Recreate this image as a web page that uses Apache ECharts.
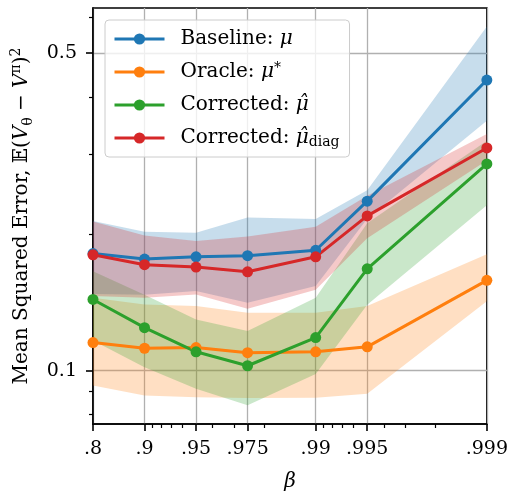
<!DOCTYPE html>
<html>
<head>
<meta charset="utf-8">
<script src="https://cdn.jsdelivr.net/npm/echarts@6/dist/echarts.min.js"></script>
<style>
  html, body { margin: 0; padding: 0; background: #fff; }
  #chart { width: 511px; height: 497px; }
</style>
</head>
<body>
<div id="chart"></div>
<script>
// beta values and axis ticks
const betas = [0.8, 0.9, 0.95, 0.975, 0.99, 0.995, 0.999];
const xTickLabels = ['.8', '.9', '.95', '.975', '.99', '.995', '.999'];
const xMinorTicks = [0.91, 0.92, 0.93, 0.94, 0.96, 0.97, 0.98, 0.991, 0.992, 0.993, 0.994, 0.996, 0.997, 0.998];
const yTicks = [0.1, 0.5];
const yTickLabels = ['0.1', '0.5'];
const yMinorTicks = [0.08, 0.09, 0.2, 0.3, 0.4, 0.6];

// mean squared error per beta, with shaded band bounds
const baseline = [0.181, 0.176, 0.178, 0.179, 0.184, 0.236, 0.436];
const baselineLow = [0.1475, 0.1468, 0.1497, 0.141, 0.1536, 0.216, 0.3545];
const baselineHigh = [0.2133, 0.2022, 0.2012, 0.2173, 0.2155, 0.2493, 0.5715];

const oracle = [0.1153, 0.112, 0.1124, 0.1095, 0.110, 0.1128, 0.158];
const oracleLow = [0.0927, 0.0882, 0.0874, 0.087, 0.0871, 0.0889, 0.1422];
const oracleHigh = [0.1446, 0.1398, 0.1387, 0.134, 0.134, 0.1387, 0.1804];

const corrected = [0.1434, 0.1243, 0.110, 0.1025, 0.1182, 0.1675, 0.285];
const correctedLow = [0.1165, 0.1017, 0.0912, 0.0839, 0.0983, 0.1396, 0.2311];
const correctedHigh = [0.1654, 0.1468, 0.1296, 0.1223, 0.1446, 0.2109, 0.3205];

const diag = [0.1798, 0.171, 0.169, 0.165, 0.178, 0.219, 0.309];
const diagLow = [0.146, 0.1446, 0.147, 0.1368, 0.1507, 0.1955, 0.29];
const diagHigh = [0.213, 0.1982, 0.1929, 0.1972, 0.2073, 0.2427, 0.3315];

// x axis is log(1 - beta), y axis is log(mse)
const tx = b => -Math.log10(1 - b);
const ty = v => Math.log10(v);

const SERIF = 'DejaVu Serif';
const names = ['Baseline: μ', 'Oracle: μ*', 'Corrected: μ̂', 'Corrected: μ̂_diag'];
const legendRich = {
  'Baseline: μ': '{t|Baseline: }{m|μ}',
  'Oracle: μ*': '{t|Oracle: }{m|μ}{sup|*}',
  'Corrected: μ̂': '{t|Corrected: }{m|μ̂}',
  'Corrected: μ̂_diag': '{t|Corrected: }{m|μ̂}{sub|diag}'
};
const colors = ['#1f77b4', '#ff7f0e', '#2ca02c', '#d62728'];
const fills = ['rgba(31,119,180,0.25)', 'rgba(255,127,14,0.25)', 'rgba(44,160,44,0.25)', 'rgba(214,39,40,0.25)'];
const means = [baseline, oracle, corrected, diag];
const lows = [baselineLow, oracleLow, correctedLow, diagLow];
const highs = [baselineHigh, oracleHigh, correctedHigh, diagHigh];

function bandSeries(i) {
  return {
    type: 'custom',
    name: 'band' + i,
    silent: true,
    z: 1,
    clip: true,
    encode: { x: 0, y: [1, 2] },
    data: betas.map((b, k) => [tx(b), ty(lows[i][k]), ty(highs[i][k])]),
    renderItem: function (params, api) {
      if (params.dataIndexInside !== 0) return null;
      const top = [], bottom = [];
      for (let k = 0; k < params.dataInsideLength; k++) {
        top.push(api.coord([api.value(0, k), api.value(2, k)]));
        bottom.push(api.coord([api.value(0, k), api.value(1, k)]));
      }
      return {
        type: 'polygon',
        shape: { points: top.concat(bottom.reverse()) },
        style: { fill: fills[i], stroke: null }
      };
    }
  };
}

function lineSeries(i) {
  return {
    type: 'line',
    name: names[i],
    z: 3,
    color: colors[i],
    symbol: 'circle',
    symbolSize: 11,
    lineStyle: { width: 3, color: colors[i] },
    itemStyle: { color: colors[i] },
    emphasis: { disabled: true },
    data: betas.map((b, k) => [tx(b), ty(means[i][k])])
  };
}

const xMin = tx(0.8), xMax = tx(0.999);
const yMin = ty(0.0763), yMax = ty(0.628);

const chart = echarts.init(document.getElementById('chart'));
chart.setOption({
  animation: false,
  grid: { left: 93, right: 21, top: 8, bottom: 70, show: true, borderColor: '#000', borderWidth: 1.6, backgroundColor: 'transparent' },
  legend: {
    data: names,
    orient: 'vertical',
    left: 105,
    top: 20,
    itemWidth: 50,
    itemHeight: 14,
    itemGap: 11,
    padding: [8, 10, 8, 8],
    backgroundColor: 'rgba(255,255,255,0.8)',
    borderColor: '#cccccc',
    borderWidth: 1,
    borderRadius: 4,
    lineStyle: { width: 3 },
    formatter: name => legendRich[name],
    textStyle: {
      fontFamily: SERIF,
      fontSize: 20,
      lineHeight: 22,
      color: '#000',
      rich: {
        t: { fontFamily: SERIF, fontSize: 20, lineHeight: 22, padding: [0, 0, 0, 11] },
        m: { fontFamily: SERIF, fontSize: 20, lineHeight: 22, fontStyle: 'italic' },
        sup: { fontFamily: SERIF, fontSize: 14, lineHeight: 14, verticalAlign: 'top' },
        sub: { fontFamily: SERIF, fontSize: 14, lineHeight: 14, verticalAlign: 'bottom' }
      }
    }
  },
  xAxis: [
    {
      type: 'value',
      min: xMin,
      max: xMax,
      position: 'bottom',
      name: 'β',
      nameLocation: 'middle',
      nameGap: 48,
      nameTextStyle: { fontFamily: SERIF, fontSize: 20, fontStyle: 'italic', color: '#000' },
      axisLine: { show: true, onZero: false, lineStyle: { color: '#000', width: 1.6 } },
      axisTick: { show: true, length: 7, lineStyle: { color: '#000', width: 1.6 }, customValues: betas.map(tx) },
      axisLabel: {
        customValues: betas.map(tx),
        margin: 16,
        fontFamily: SERIF,
        fontSize: 19,
        color: '#000',
        formatter: v => {
          const k = betas.findIndex(b => Math.abs(tx(b) - v) < 1e-6);
          return k >= 0 ? xTickLabels[k] : '';
        }
      },
      splitLine: { show: true, lineStyle: { color: '#b0b0b0', width: 1.3 } }
    },
    {
      type: 'value',
      min: xMin,
      max: xMax,
      position: 'bottom',
      axisLine: { show: false, onZero: false },
      axisTick: { show: true, length: 4, lineStyle: { color: '#000', width: 1.2 }, customValues: xMinorTicks.map(tx) },
      axisLabel: { show: false },
      splitLine: { show: false }
    }
  ],
  yAxis: [
    {
      type: 'value',
      min: yMin,
      max: yMax,
      position: 'left',
      name: '{n|Mean Squared Error, }{n|𝔼(}{i|V}{sub|θ}{n| − }{i|V}{sup|π}{n|)}{sup|2}',
      nameLocation: 'middle',
      nameRotate: 90,
      nameGap: 58,
      nameTextStyle: {
        fontFamily: SERIF,
        fontSize: 20,
        color: '#000',
        rich: {
          n: { fontFamily: SERIF, fontSize: 20, lineHeight: 26 },
          i: { fontFamily: SERIF, fontSize: 20, fontStyle: 'italic', lineHeight: 26 },
          sup: { fontFamily: SERIF, fontSize: 14, lineHeight: 14, verticalAlign: 'top' },
          sub: { fontFamily: SERIF, fontSize: 14, lineHeight: 14, verticalAlign: 'bottom' }
        }
      },
      axisLine: { show: true, onZero: false, lineStyle: { color: '#000', width: 1.6 } },
      axisTick: { show: true, length: 7, lineStyle: { color: '#000', width: 1.6 }, customValues: yTicks.map(ty) },
      axisLabel: {
        customValues: yTicks.map(ty),
        margin: 16,
        fontFamily: SERIF,
        fontSize: 19,
        color: '#000',
        formatter: v => {
          const k = yTicks.findIndex(t => Math.abs(ty(t) - v) < 1e-6);
          return k >= 0 ? yTickLabels[k] : '';
        }
      },
      splitLine: { show: true, lineStyle: { color: '#b0b0b0', width: 1.3 } }
    },
    {
      type: 'value',
      min: yMin,
      max: yMax,
      position: 'left',
      axisLine: { show: false, onZero: false },
      axisTick: { show: true, length: 4, lineStyle: { color: '#000', width: 1.2 }, customValues: yMinorTicks.map(ty) },
      axisLabel: { show: false },
      splitLine: { show: false }
    }
  ],
  series: [0, 1, 2, 3].map(bandSeries).concat([0, 1, 2, 3].map(lineSeries))
});
</script>
</body>
</html>
